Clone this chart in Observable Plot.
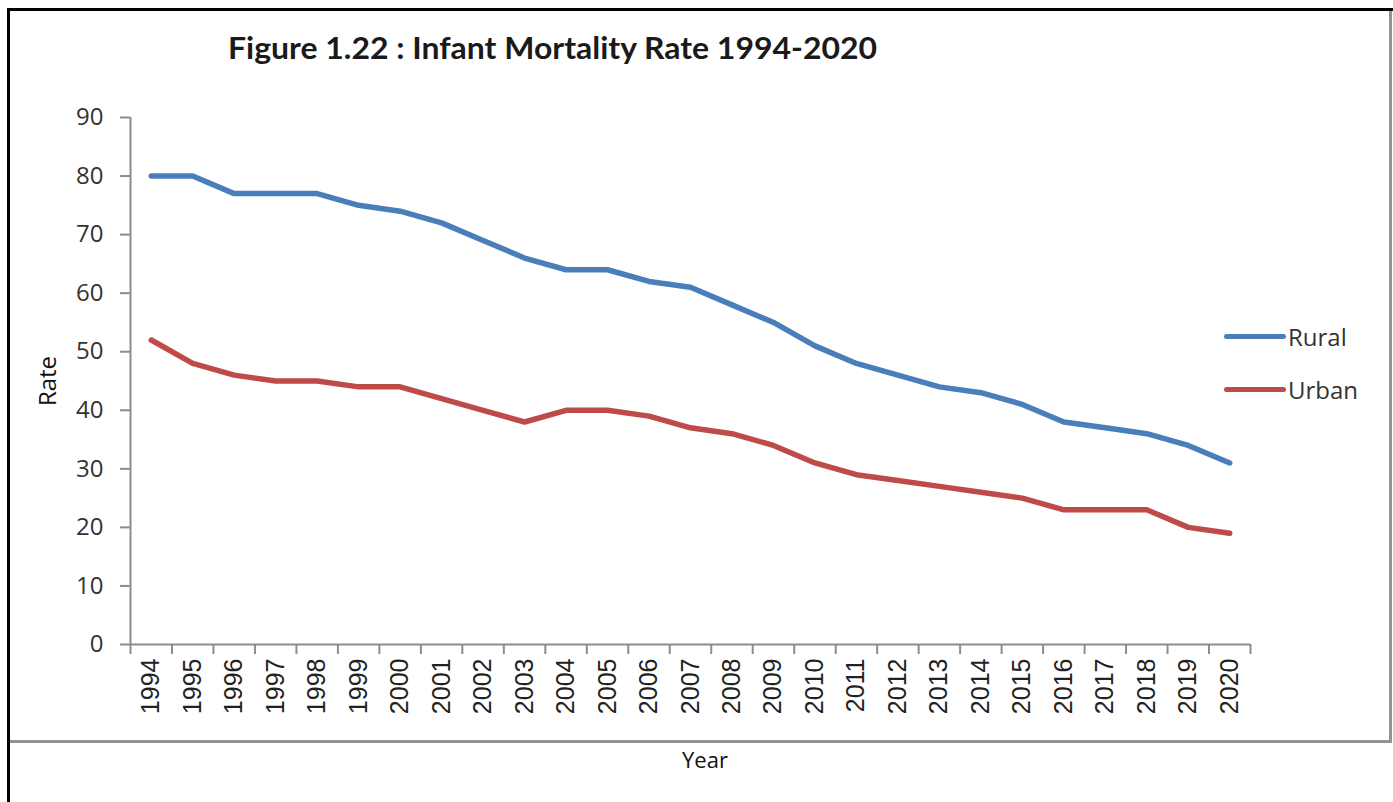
<!DOCTYPE html>
<html>
<head>
<meta charset="utf-8">
<script src="https://cdn.jsdelivr.net/npm/d3@7"></script>
<script src="https://cdn.jsdelivr.net/npm/@observablehq/plot@0.6"></script>
<style>
  html, body { margin: 0; padding: 0; background: #fff; }
  #wrap { position: relative; width: 1393px; height: 802px; overflow: hidden; background: #fff; }
  #chart { position: absolute; left: 0; top: 0; }
  .outer { position: absolute; left: 7px; top: 8px; width: 1390px; height: 800px; border-left: 3px solid #000; border-top: 3px solid #000; box-sizing: border-box; }
  .inner { position: absolute; left: 10px; top: 11px; width: 1382px; height: 732px; border-right: 3px solid #929292; border-bottom: 3px solid #929292; box-sizing: border-box; }
  .title { position: absolute; left: 228px; top: 32px; font-family: Lato, "Open Sans", sans-serif; font-weight: bold; font-size: 30px; line-height: 1; color: #1a1a1a; white-space: nowrap; transform-origin: 0 0; }
  .xlab { position: absolute; top: 748px; left: 705px; transform: translateX(-50%); font-family: "Open Sans", sans-serif; font-size: 22px; line-height: 1; color: #111; }
  .sw { position: absolute; left: 1224px; width: 62px; height: 5px; border-radius: 3px; }
  .lt { position: absolute; left: 1288px; font-family: "Open Sans", sans-serif; font-size: 24px; line-height: 1; color: #333; }
</style>
</head>
<body>
<div id="wrap">
  <div id="chart"></div>
  <div class="outer"></div>
  <div class="inner"></div>
  <div class="title" id="title">Figure 1.22 : Infant Mortality Rate 1994-2020</div>
  <div class="xlab">Year</div>
  <div class="sw" id="sw0" style="top:334px"></div>
  <div class="lt" id="lt0" style="top:325px"></div>
  <div class="sw" id="sw1" style="top:387px"></div>
  <div class="lt" id="lt1" style="top:378px"></div>
</div>
<script>
const years = [1994, 1995, 1996, 1997, 1998, 1999, 2000, 2001, 2002, 2003, 2004, 2005, 2006, 2007, 2008, 2009, 2010, 2011, 2012, 2013, 2014, 2015, 2016, 2017, 2018, 2019, 2020];
const rural = [80, 80, 77, 77, 77, 75, 74, 72, 69, 66, 64, 64, 62, 61, 58, 55, 51, 48, 46, 44, 43, 41, 38, 37, 36, 34, 31];
const urban = [52, 48, 46, 45, 45, 44, 44, 42, 40, 38, 40, 40, 39, 37, 36, 34, 31, 29, 28, 27, 26, 25, 23, 23, 23, 20, 19];
const seriesNames = ["Rural", "Urban"];
const seriesColors = ["#4a7ebb", "#be4b48"];
const yTicks = [0, 10, 20, 30, 40, 50, 60, 70, 80, 90];

const ruralData = years.map((yr, i) => ({year: yr, value: rural[i]}));
const urbanData = years.map((yr, i) => ({year: yr, value: urban[i]}));
const boundaries = [years[0] - 0.5, ...years.map(yr => yr + 0.5)];

const axisGray = "#8c8c8c";

const plot = Plot.plot({
  width: 1393,
  height: 802,
  marginLeft: 130,
  marginRight: 143,
  marginTop: 117,
  marginBottom: 158,
  x: {domain: [years[0] - 0.5, years[years.length - 1] + 0.5]},
  y: {domain: [0, 90]},
  style: {background: "transparent", fontFamily: "'Open Sans', sans-serif", color: "#333"},
  marks: [
    Plot.axisY({ticks: yTicks, tickSize: 10, tickFormat: () => "", stroke: axisGray, strokeWidth: 2, label: null}),
    Plot.axisY({ticks: yTicks, tickSize: 0, tickPadding: 27, fontSize: 24, fill: "#333", label: "Rate", labelArrow: "none", labelAnchor: "center", labelOffset: 92}),
    Plot.axisX({ticks: boundaries, tickSize: 10, tickFormat: () => "", stroke: axisGray, strokeWidth: 2, label: null}),
    Plot.axisX({ticks: years, tickSize: 0, tickPadding: 14, tickRotate: -90, tickFormat: d => String(d), fontSize: 25, fontFamily: "'Liberation Sans', Arial, sans-serif", fill: "#222", label: null}),
    Plot.ruleX([years[0] - 0.5], {stroke: axisGray, strokeWidth: 2}),
    Plot.ruleY([0], {stroke: axisGray, strokeWidth: 2}),
    Plot.line(ruralData, {x: "year", y: "value", stroke: seriesColors[0], strokeWidth: 5.5, strokeLinejoin: "round", strokeLinecap: "round"}),
    Plot.line(urbanData, {x: "year", y: "value", stroke: seriesColors[1], strokeWidth: 5.5, strokeLinejoin: "round", strokeLinecap: "round"})
  ]
});
document.getElementById("chart").appendChild(plot);

// Style the "Rate" label (and strip any arrow)
plot.querySelectorAll("text").forEach(t => {
  if (t.textContent.trim().startsWith("Rate")) {
    t.textContent = "Rate";
    t.setAttribute("font-size", "24");
    t.style.fontSize = "24px";
    t.setAttribute("fill", "#111");
  }
});

// Legend
seriesNames.forEach((name, i) => {
  document.getElementById("sw" + i).style.background = seriesColors[i];
  document.getElementById("lt" + i).textContent = name;
});

// Fit title width to reference width
const title = document.getElementById("title");
const w = title.getBoundingClientRect().width;
title.style.transform = `scaleX(${649 / w})`;
</script>
</body>
</html>
